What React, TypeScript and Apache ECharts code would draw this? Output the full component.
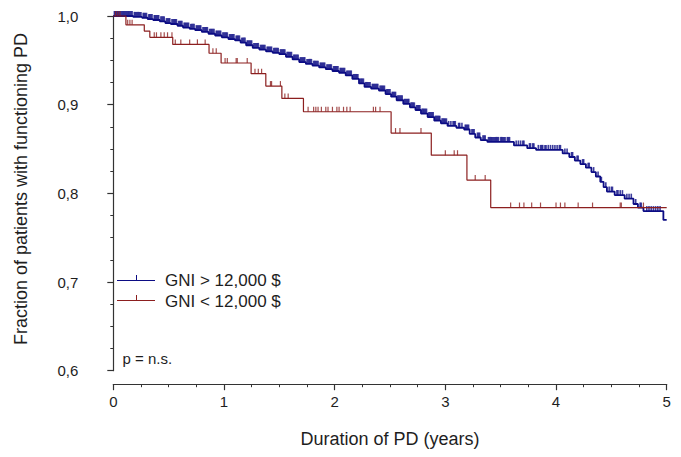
import React, { useEffect, useRef } from "react";
import * as echarts from "echarts";

// ---- Data ----
const xTicks = [0, 1, 2, 3, 4, 5];
const yTicks = ["0,6", "0,7", "0,8", "0,9", "1,0"];

// GNI > 12,000 $ : event times and survival after each event
const blueTimes = [0.18, 0.26, 0.31, 0.36, 0.42, 0.47, 0.52, 0.58, 0.63, 0.69, 0.74, 0.80, 0.86, 0.92, 0.98, 1.04, 1.10, 1.15, 1.20, 1.26, 1.32, 1.38, 1.44, 1.50, 1.56, 1.62, 1.68, 1.74, 1.80, 1.86, 1.92, 1.98, 2.04, 2.10, 2.16, 2.22, 2.27, 2.33, 2.40, 2.46, 2.51, 2.56, 2.62, 2.68, 2.73, 2.78, 2.84, 2.90, 2.96, 3.02, 3.10, 3.17, 3.22, 3.27, 3.32, 3.38, 3.62, 3.74, 3.82, 4.06, 4.12, 4.17, 4.22, 4.27, 4.32, 4.36, 4.40, 4.43, 4.46, 4.53, 4.62, 4.70, 4.74, 4.79, 4.97];
const blueSurv = [0.999, 0.998, 0.9965, 0.9955, 0.994, 0.992, 0.991, 0.989, 0.987, 0.9855, 0.984, 0.982, 0.980, 0.978, 0.976, 0.974, 0.9725, 0.970, 0.967, 0.964, 0.962, 0.960, 0.9585, 0.957, 0.954, 0.951, 0.948, 0.946, 0.944, 0.942, 0.940, 0.938, 0.936, 0.933, 0.929, 0.924, 0.920, 0.918, 0.916, 0.912, 0.909, 0.905, 0.901, 0.897, 0.894, 0.890, 0.886, 0.882, 0.879, 0.876, 0.874, 0.872, 0.867, 0.863, 0.860, 0.858, 0.854, 0.851, 0.849, 0.845, 0.841, 0.837, 0.833, 0.829, 0.824, 0.819, 0.813, 0.807, 0.802, 0.798, 0.794, 0.788, 0.784, 0.780, 0.770];
const blueCensor = [0.01, 0.02, 0.03, 0.04, 0.05, 0.06, 0.07, 0.08, 0.09, 0.1, 0.11, 0.12, 0.13, 0.14, 0.15, 0.16, 0.17, 0.19, 0.2, 0.21, 0.22, 0.23, 0.24, 0.25, 0.27, 0.28, 0.29, 0.3, 0.32, 0.33, 0.34, 0.35, 0.37, 0.38, 0.39, 0.4, 0.41, 0.43, 0.44, 0.45, 0.46, 0.48, 0.49, 0.5, 0.51, 0.53, 0.54, 0.55, 0.56, 0.57, 0.59, 0.6, 0.61, 0.62, 0.64, 0.65, 0.66, 0.67, 0.68, 0.7, 0.71, 0.72, 0.73, 0.75, 0.76, 0.77, 0.78, 0.79, 0.81, 0.82, 0.83, 0.84, 0.85, 0.87, 0.88, 0.89, 0.9, 0.91, 0.93, 0.94, 0.95, 0.96, 0.97, 0.99, 1.0, 1.01, 1.02, 1.03, 1.05, 1.06, 1.07, 1.08, 1.09, 1.11, 1.12, 1.13, 1.14, 1.16, 1.17, 1.18, 1.19, 1.21, 1.22, 1.23, 1.24, 1.25, 1.27, 1.28, 1.29, 1.3, 1.31, 1.33, 1.34, 1.35, 1.36, 1.37, 1.39, 1.4, 1.41, 1.42, 1.43, 1.45, 1.46, 1.47, 1.48, 1.49, 1.51, 1.52, 1.53, 1.54, 1.55, 1.57, 1.58, 1.59, 1.6, 1.61, 1.63, 1.64, 1.65, 1.66, 1.67, 1.69, 1.7, 1.71, 1.72, 1.73, 1.75, 1.76, 1.77, 1.78, 1.79, 1.81, 1.82, 1.83, 1.84, 1.85, 1.87, 1.88, 1.89, 1.9, 1.91, 1.93, 1.94, 1.95, 1.96, 1.97, 1.99, 2.0, 2.01, 2.02, 2.03, 2.05, 2.06, 2.07, 2.08, 2.09, 2.11, 2.12, 2.13, 2.14, 2.15, 2.17, 2.18, 2.19, 2.2, 2.21, 2.23, 2.24, 2.25, 2.26, 2.28, 2.29, 2.3, 2.31, 2.32, 2.34, 2.35, 2.36, 2.37, 2.38, 2.39, 2.41, 2.42, 2.43, 2.44, 2.45, 2.47, 2.48, 2.49, 2.5, 2.52, 2.53, 2.54, 2.55, 2.57, 2.58, 2.59, 2.6, 2.61, 2.63, 2.64, 2.65, 2.66, 2.67, 2.69, 2.7, 2.71, 2.72, 2.74, 2.75, 2.76, 2.77, 2.79, 2.8, 2.81, 2.82, 2.83, 2.85, 2.86, 2.87, 2.88, 2.89, 2.91, 2.92, 2.93, 2.94, 2.95, 2.97, 2.98, 2.99, 3.0, 3.01, 3.03, 3.05, 3.07, 3.08, 3.09, 3.12, 3.13, 3.15, 3.18, 3.19, 3.2, 3.21, 3.24, 3.25, 3.26, 3.29, 3.3, 3.31, 3.34, 3.35, 3.36, 3.39, 3.4, 3.41, 3.42, 3.43, 3.44, 3.45, 3.46, 3.47, 3.48, 3.5, 3.51, 3.52, 3.53, 3.54, 3.56, 3.57, 3.58, 3.64, 3.66, 3.68, 3.7, 3.71, 3.76, 3.77, 3.79, 3.8, 3.84, 3.86, 3.87, 3.88, 3.9, 3.91, 3.93, 3.95, 3.97, 3.99, 4.01, 4.03, 4.04, 4.08, 4.1, 4.14, 4.15, 4.19, 4.2, 4.24, 4.25, 4.29, 4.3, 4.34, 4.38, 4.41, 4.45, 4.48, 4.5, 4.51, 4.55, 4.56, 4.58, 4.6, 4.64, 4.66, 4.68, 4.72, 4.76, 4.77, 4.82, 4.84, 4.86, 4.88, 4.9, 4.92, 4.94];

// GNI < 12,000 $
const redTimes = [0.114, 0.28, 0.33, 0.537, 0.865, 0.974, 1.245, 1.378, 1.523, 1.718, 2.51, 2.873, 3.195, 3.41];
const redSurv = [0.990, 0.983, 0.976, 0.968, 0.958, 0.947, 0.935, 0.921, 0.907, 0.892, 0.868, 0.843, 0.815, 0.784];
const redCensor = [0.02, 0.04, 0.06, 0.13, 0.15, 0.17, 0.37, 0.39, 0.43, 0.46, 0.49, 0.53, 0.56, 0.61, 0.69, 0.76, 0.83, 0.90, 0.93, 1.01, 1.03, 1.11, 1.12, 1.21, 1.28, 1.31, 1.34, 1.42, 1.43, 1.51, 1.55, 1.58, 1.76, 1.81, 1.83, 1.85, 1.88, 1.92, 1.94, 1.98, 2.02, 2.04, 2.08, 2.11, 2.14, 2.35, 2.37, 2.41, 2.55, 2.59, 2.78, 3.0, 3.08, 3.11, 3.27, 3.36, 3.59, 3.67, 3.71, 3.78, 3.86, 4.0, 4.04, 4.08, 4.2, 4.33, 4.58, 4.59, 4.79];

const followUpEnd = 5.0;
const seriesNames = ["GNI > 12,000 $", "GNI < 12,000 $"];
const pText = "p = n.s.";

const BLUE = "#0c0c84";
const RED = "#8c1f1f";
const FONT = "'Liberation Sans', Arial, sans-serif";
const TXT = "#1e1e1e";

function stepLine(times: number[], surv: number[]) {
  const pts: number[][] = [[0, 1]];
  times.forEach((t, i) => pts.push([t, surv[i]]));
  pts.push([followUpEnd, surv[surv.length - 1]]);
  return pts;
}
function survAt(times: number[], surv: number[], t: number) {
  let s = 1;
  for (let i = 0; i < times.length; i++) if (times[i] <= t) s = surv[i];
  return s;
}
function censorPts(times: number[], surv: number[], cens: number[]) {
  return cens.map((c) => [c, survAt(times, surv, c)]);
}

export default function App() {
  const ref = useRef<HTMLDivElement>(null);
  useEffect(() => {
    if (!ref.current) return;
    const chart = echarts.init(ref.current, undefined, { renderer: "svg" });
    const axisCommon = {
      axisLine: { show: true, lineStyle: { color: "#333", width: 1.2 } },
      axisTick: { show: true, inside: false, length: 6, lineStyle: { color: "#333", width: 1.2 } },
      minorTick: { show: true, splitNumber: 4, length: 3, lineStyle: { color: "#333", width: 1 } },
      splitLine: { show: false },
      minorSplitLine: { show: false },
    };
    chart.setOption({
      animation: false,
      backgroundColor: "#fff",
      grid: { left: 113.3, right: 14.3, top: 16, bottom: 86.3 },
      xAxis: {
        type: "value",
        min: 0,
        max: 5,
        interval: 1,
        offset: 13.5,
        ...axisCommon,
        axisLabel: {
          margin: 10,
          fontSize: 15,
          fontFamily: FONT,
          color: TXT,
          formatter: (v: number) => (xTicks.includes(v) ? String(v) : ""),
        },
      },
      yAxis: {
        type: "value",
        min: 0.6,
        max: 1.0,
        interval: 0.1,
        offset: 23,
        ...axisCommon,
        axisLabel: {
          margin: 12,
          fontSize: 15,
          fontFamily: FONT,
          color: TXT,
          formatter: (v: number) => yTicks[Math.round((v - 0.6) * 10)] ?? "",
        },
      },
      graphic: [
        {
          type: "text",
          x: 21,
          y: 189,
          rotation: Math.PI / 2,
          style: {
            text: "Fraction of patients with functioning PD",
            font: `18px ${FONT}`,
            fill: TXT,
            textAlign: "center",
            textVerticalAlign: "middle",
          },
        },
        {
          type: "text",
          x: 390,
          y: 439,
          style: {
            text: "Duration of PD (years)",
            font: `18px ${FONT}`,
            fill: TXT,
            textAlign: "center",
            textVerticalAlign: "middle",
          },
        },
        { type: "line", shape: { x1: 117, y1: 280.5, x2: 155, y2: 280.5 }, style: { stroke: BLUE, lineWidth: 1 } },
        { type: "line", shape: { x1: 136.5, y1: 280.5, x2: 136.5, y2: 275 }, style: { stroke: BLUE, lineWidth: 1 } },
        { type: "line", shape: { x1: 117, y1: 300.5, x2: 155, y2: 300.5 }, style: { stroke: RED, lineWidth: 1 } },
        { type: "line", shape: { x1: 136.5, y1: 300.5, x2: 136.5, y2: 295 }, style: { stroke: RED, lineWidth: 1 } },
        {
          type: "text",
          x: 165,
          y: 280,
          style: { text: seriesNames[0], font: `17px ${FONT}`, fill: TXT, textVerticalAlign: "middle" },
        },
        {
          type: "text",
          x: 165,
          y: 301,
          style: { text: seriesNames[1], font: `17px ${FONT}`, fill: TXT, textVerticalAlign: "middle" },
        },
        {
          type: "text",
          x: 122.5,
          y: 358,
          style: { text: pText, font: `15px ${FONT}`, fill: TXT, textVerticalAlign: "middle" },
        },
      ],
      series: [
        {
          name: seriesNames[0],
          type: "line",
          step: "end",
          data: stepLine(blueTimes, blueSurv),
          showSymbol: false,
          symbol: "none",
          lineStyle: { color: BLUE, width: 1.8 },
          clip: false,
          z: 2,
        },
        {
          name: seriesNames[0] + " censored",
          type: "scatter",
          data: censorPts(blueTimes, blueSurv, blueCensor),
          symbol: "rect",
          symbolSize: [1.6, 5],
          symbolOffset: [0, -2.5],
          itemStyle: { color: BLUE },
          clip: false,
          z: 2,
        },
        {
          name: seriesNames[1],
          type: "line",
          step: "end",
          data: stepLine(redTimes, redSurv),
          showSymbol: false,
          symbol: "none",
          lineStyle: { color: RED, width: 1.2 },
          clip: false,
          z: 3,
        },
        {
          name: seriesNames[1] + " censored",
          type: "scatter",
          data: censorPts(redTimes, redSurv, redCensor),
          symbol: "rect",
          symbolSize: [1.2, 5],
          symbolOffset: [0, -2.5],
          itemStyle: { color: RED },
          clip: false,
          z: 3,
        },
      ],
    });
    return () => chart.dispose();
  }, []);
  return <div ref={ref} style={{ width: 681, height: 457, position: "absolute", left: 0, top: 0 }} />;
}
